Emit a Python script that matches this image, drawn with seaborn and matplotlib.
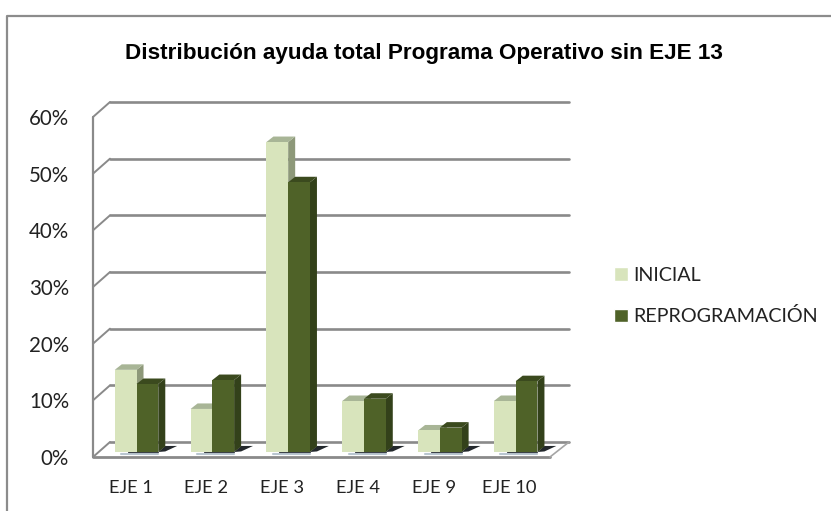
import pandas as pd
import matplotlib
matplotlib.use('Agg')
import matplotlib.pyplot as plt
import seaborn as sns
from matplotlib.lines import Line2D
from matplotlib.patches import Polygon
from matplotlib.transforms import ScaledTranslation

# Values
ejes = ['EJE 1', 'EJE 2', 'EJE 3', 'EJE 4', 'EJE 9', 'EJE 10']
inicial = [14.5, 7.6, 54.7, 9.0, 3.8, 9.0]
reprogramacion = [12.0, 12.7, 47.6, 9.4, 4.3, 12.5]
series = ['INICIAL', 'REPROGRAMACIÓN']
yticks = [0, 10, 20, 30, 40, 50, 60]
ytick_labels = ['0%', '10%', '20%', '30%', '40%', '50%', '60%']
titulo = 'Distribución ayuda total Programa Operativo sin EJE 13'

W, H, DPI = 831, 511, 100
front_colors = ['#D8E4BC', '#4F6228']
top_colors = ['#A8B596', '#3B4A1E']
side_colors = ['#8D9879', '#33411A']
GRID = '#8A8A8A'

sns.set_style('white')
plt.rcParams['font.family'] = ['Lato', 'DejaVu Sans']

df = pd.DataFrame({
    'eje': ejes * 2,
    'valor': inicial + reprogramacion,
    'serie': [series[0]] * len(ejes) + [series[1]] * len(ejes),
})

fig = plt.figure(figsize=(W / DPI, H / DPI), dpi=DPI)
# axes box in pixels: the plane where the bars stand
left, right, bottom, top = 98.6, 553.6, 452.0, 112.0
ax = fig.add_axes([left / W, 1 - bottom / H, (right - left) / W, (bottom - top) / H])
ax.patch.set_alpha(0)

sns.barplot(data=df, x='eje', y='valor', hue='serie', palette=front_colors,
            hue_order=series, width=0.574, saturation=1, gap=0, ax=ax, legend=True)
ax.set_xlim(-0.5, len(ejes) - 0.5)
ax.set_ylim(0, 60)
sns.despine(ax=ax, left=True, bottom=True)
ax.set_xlabel('')
ax.set_ylabel('')


def shifted(dx, dy):
    # same data coords, moved by some pixels on the screen
    return ax.transData + ScaledTranslation(dx / DPI, -dy / DPI, fig.dpi_scale_trans)


# walls and floor, the two planes are the bar plane moved front or back
x0, x1 = ax.get_xlim()
group_px = (right - left) / len(ejes)
front = shifted(-5.6, 5)
back = shifted(11.4, -10)
back_end = x1 + 4 / group_px
front_end = x1 + 2 / group_px
for y in yticks:
    ax.plot([x0, back_end], [y, y], color=GRID, lw=1.9, transform=back, zorder=1, clip_on=False)
    p = front.transform((x0, y))
    q = back.transform((x0, y))
    fig.add_artist(Line2D([p[0] / W, q[0] / W], [p[1] / H, q[1] / H], color=GRID, lw=1.4,
                          transform=fig.transFigure, zorder=0.5))
ax.plot([x0, x0], [0, 60], color=GRID, lw=1.6, transform=front, zorder=1, clip_on=False)
ax.plot([x0, front_end], [0, 0], color=GRID, lw=2.0, transform=front, zorder=1, clip_on=False)
p = front.transform((front_end, 0))
q = back.transform((back_end, 0))
fig.add_artist(Line2D([p[0] / W, q[0] / W], [p[1] / H, q[1] / H], color='#A5A5A5', lw=1.2,
                      transform=fig.transFigure, zorder=0.5))

# 3d faces built from the bars seaborn made
px_unit = (bottom - top) / 60
depth_x = 7.0 / group_px
depth_y = 5.5 / px_unit
n = len(ejes)
for i, bar in enumerate(ax.patches[:2 * n]):
    s = i // n
    xa = bar.get_x()
    xb = xa + bar.get_width()
    h = bar.get_height()
    bar.set_zorder(3 + s)
    bar.set_edgecolor('none')
    ax.add_patch(Polygon([(xa, h), (xb, h), (xb + depth_x, h + depth_y), (xa + depth_x, h + depth_y)],
                         fc=top_colors[s], ec='none', zorder=2.9 + s, clip_on=False))
    ax.add_patch(Polygon([(xb, 0), (xb + depth_x, depth_y), (xb + depth_x, h + depth_y), (xb, h)],
                         fc=side_colors[s], ec='none', zorder=2.8 + s, clip_on=False))
    if s == 1:
        # floor shadow next to the second bar
        ax.add_patch(Polygon([(xb, 0), (xb + depth_x, 0.1 * depth_y), (xb + 2.7 * depth_x, depth_y * 1.1),
                              (xb + depth_x, depth_y * 1.1)],
                             fc='#23282C', ec='none', zorder=2.5, clip_on=False))
        ax.plot([xa - bar.get_width() * 0.7, xb], [-0.3, -0.3], color='#B9C6D0', lw=1.5, zorder=2.3,
                clip_on=False, solid_capstyle='round')
        ax.plot([xa - bar.get_width() * 0.4, xb], [-0.05, -0.05], color='#3C4248', lw=0.8, zorder=2.4,
                clip_on=False)

# ticks
ax.set_yticks(yticks)
ax.set_yticklabels(ytick_labels, fontsize=14.8, color='#222222')
ax.tick_params(axis='y', length=0, pad=21.3)
for lab in ax.get_yticklabels():
    lab.set_transform(lab.get_transform() + ScaledTranslation(0, -5 / DPI, fig.dpi_scale_trans))
ax.set_xticks(range(n))
ax.set_xticklabels(ejes, fontsize=13.2, color='#222222')
ax.tick_params(axis='x', length=0, pad=20.5)
for lab in ax.get_xticklabels():
    lab.set_transform(lab.get_transform() + ScaledTranslation(-6 / DPI, 0, fig.dpi_scale_trans))

# legend
handles, labels = ax.get_legend_handles_labels()
ax.legend(handles, labels, loc='upper left', bbox_to_anchor=(596 / W, 1 - 249 / H),
          bbox_transform=fig.transFigure, frameon=False, fontsize=14.2, handlelength=0.7,
          handleheight=0.7, handletextpad=0.3, labelspacing=1.2, labelcolor='#222222')

# title and chart frame
fig.text(424 / W, 1 - 53 / H, titulo, ha='center', va='center', fontsize=16.2,
         fontweight='bold', family='Liberation Sans', color='black')
fig.add_artist(Line2D([6.5 / W, 6.5 / W, 1], [0, 1 - 16 / H, 1 - 16 / H], color='#8C8C8C', lw=1.6,
                      transform=fig.transFigure))

fig.savefig('out.png', dpi=DPI)
